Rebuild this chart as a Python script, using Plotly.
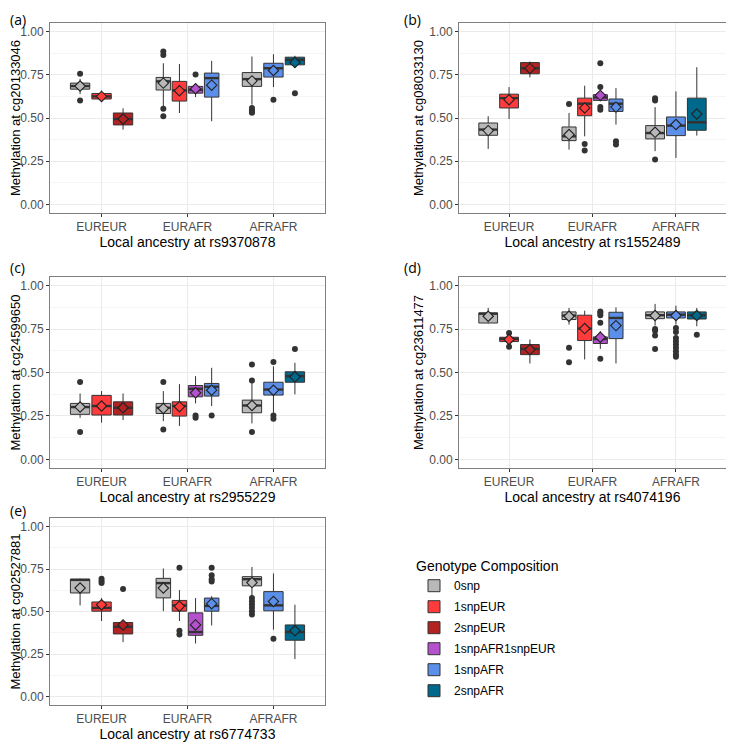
import plotly.graph_objects as go

# genotype groups and their colours
genotypes = ["0snp", "1snpEUR", "2snpEUR", "1snpAFR1snpEUR", "1snpAFR", "2snpAFR"]
geno_colors = ["#B8B8B8", "#FF3B3B", "#B22222", "#B452CD", "#5B8FEA", "#00688B"]
ancestry = ["EUREUR", "EURAFR", "AFRAFR"]

# panel (a): cg20133046 / rs9370878
a_anc = ["EUREUR"] * 3 + ["EURAFR"] * 4 + ["AFRAFR"] * 3
a_geno = ["0snp", "1snpEUR", "2snpEUR", "0snp", "1snpEUR", "1snpAFR1snpEUR", "1snpAFR", "0snp", "1snpAFR", "2snpAFR"]
a_lo = [0.638, 0.594, 0.433, 0.567, 0.529, 0.621, 0.481, 0.577, 0.679, 0.798]
a_q1 = [0.667, 0.610, 0.460, 0.662, 0.598, 0.644, 0.621, 0.683, 0.737, 0.808]
a_med = [0.685, 0.625, 0.494, 0.712, 0.660, 0.663, 0.731, 0.725, 0.788, 0.837]
a_q3 = [0.702, 0.642, 0.529, 0.735, 0.712, 0.683, 0.760, 0.763, 0.817, 0.852]
a_hi = [0.727, 0.658, 0.556, 0.817, 0.813, 0.700, 0.831, 0.856, 0.869, 0.860]
a_mean = [0.685, 0.625, 0.494, 0.702, 0.658, 0.669, 0.690, 0.715, 0.775, 0.821]
a_out = [[0.756, 0.602], [], [], [0.885, 0.865, 0.554, 0.510], [], [0.752], [],
         [0.558, 0.545, 0.535, 0.530], [0.606], [0.644]]

# panel (b): cg08033130 / rs1552489
b_anc = a_anc
b_geno = a_geno
b_lo = [0.321, 0.494, 0.735, 0.317, 0.394, 0.596, 0.462, 0.308, 0.269, 0.398]
b_q1 = [0.400, 0.558, 0.756, 0.369, 0.513, 0.602, 0.538, 0.379, 0.398, 0.429]
b_med = [0.433, 0.615, 0.788, 0.394, 0.583, 0.619, 0.583, 0.413, 0.456, 0.475]
b_q3 = [0.471, 0.638, 0.821, 0.448, 0.615, 0.635, 0.610, 0.456, 0.506, 0.615]
b_hi = [0.510, 0.679, 0.827, 0.529, 0.687, 0.644, 0.673, 0.563, 0.654, 0.794]
b_mean = [0.427, 0.606, 0.787, 0.404, 0.558, 0.631, 0.563, 0.417, 0.462, 0.523]
b_out = [[], [], [], [0.581], [0.350, 0.312], [0.817, 0.679, 0.563, 0.548], [0.365, 0.346],
         [0.615, 0.602, 0.260], [], []]

# panel (c): cg24599650 / rs2955229
c_anc = a_anc
c_geno = a_geno
c_lo = [0.239, 0.211, 0.226, 0.220, 0.192, 0.322, 0.307, 0.207, 0.268, 0.374]
c_q1 = [0.259, 0.255, 0.255, 0.264, 0.249, 0.360, 0.364, 0.268, 0.370, 0.444]
c_med = [0.301, 0.307, 0.297, 0.297, 0.307, 0.406, 0.418, 0.310, 0.402, 0.479]
c_q3 = [0.322, 0.368, 0.331, 0.322, 0.331, 0.425, 0.437, 0.341, 0.444, 0.504]
c_hi = [0.379, 0.393, 0.379, 0.393, 0.433, 0.479, 0.527, 0.441, 0.536, 0.556]
c_mean = [0.301, 0.307, 0.297, 0.293, 0.303, 0.383, 0.398, 0.310, 0.398, 0.475]
c_out = [[0.446, 0.157], [], [], [0.446, 0.172], [], [0.253, 0.240], [0.253],
         [0.546, 0.454, 0.157], [0.561, 0.253, 0.234], [0.636]]

# panel (d): cg23611477 / rs4074196
d_anc = a_anc
d_geno = a_geno
d_lo = [0.782, 0.670, 0.552, 0.776, 0.575, 0.636, 0.552, 0.770, 0.776, 0.766]
d_q1 = [0.785, 0.678, 0.603, 0.805, 0.684, 0.667, 0.695, 0.810, 0.814, 0.808]
d_med = [0.839, 0.693, 0.636, 0.828, 0.753, 0.693, 0.814, 0.830, 0.833, 0.830]
d_q3 = [0.843, 0.703, 0.661, 0.849, 0.830, 0.705, 0.847, 0.849, 0.849, 0.849]
d_hi = [0.872, 0.712, 0.690, 0.872, 0.856, 0.738, 0.875, 0.895, 0.885, 0.872]
d_mean = [0.824, 0.690, 0.632, 0.824, 0.753, 0.703, 0.770, 0.828, 0.828, 0.828]
d_out = [[], [0.728, 0.648], [], [0.642, 0.559], [], [0.852, 0.843, 0.830, 0.787, 0.579], [],
         [0.751, 0.741, 0.713, 0.636],
         [0.757, 0.733, 0.699, 0.680, 0.661, 0.642, 0.623, 0.603, 0.590], [0.718]]

# panel (e): cg02527881 / rs6774733
e_anc = a_anc
e_geno = a_geno
e_lo = [0.536, 0.444, 0.320, 0.502, 0.444, 0.312, 0.418, 0.590, 0.393, 0.220]
e_q1 = [0.609, 0.502, 0.368, 0.580, 0.502, 0.360, 0.502, 0.651, 0.504, 0.331]
e_med = [0.686, 0.521, 0.410, 0.667, 0.536, 0.379, 0.533, 0.690, 0.536, 0.379]
e_q3 = [0.690, 0.556, 0.435, 0.695, 0.565, 0.492, 0.579, 0.705, 0.617, 0.421]
e_hi = [0.693, 0.579, 0.450, 0.753, 0.626, 0.579, 0.590, 0.762, 0.724, 0.540]
e_mean = [0.638, 0.540, 0.421, 0.638, 0.531, 0.421, 0.546, 0.670, 0.559, 0.387]
e_out = [[], [0.693, 0.680, 0.667], [0.632], [], [0.757, 0.387, 0.364], [],
         [0.757, 0.713, 0.690, 0.676], [0.579, 0.560, 0.541, 0.522, 0.502, 0.483], [0.339], []]

panels = [
    ("(a)", "cg20133046", "rs9370878", a_anc, a_geno, a_lo, a_q1, a_med, a_q3, a_hi, a_mean, a_out),
    ("(b)", "cg08033130", "rs1552489", b_anc, b_geno, b_lo, b_q1, b_med, b_q3, b_hi, b_mean, b_out),
    ("(c)", "cg24599650", "rs2955229", c_anc, c_geno, c_lo, c_q1, c_med, c_q3, c_hi, c_mean, c_out),
    ("(d)", "cg23611477", "rs4074196", d_anc, d_geno, d_lo, d_q1, d_med, d_q3, d_hi, d_mean, d_out),
    ("(e)", "cg02527881", "rs6774733", e_anc, e_geno, e_lo, e_q1, e_med, e_q3, e_hi, e_mean, e_out),
]

# the page body has an 8px margin, so the figure is drawn 8px in from the window edge
OFF = 8
W, H = 734 - 2 * OFF, 751 - 2 * OFF
# plot areas in window pixels: left, right, top, bottom
areas = [(50, 325, 23, 213), (459, 726, 23, 213),
         (50, 325, 277, 468), (459, 726, 277, 468),
         (50, 325, 518, 705)]
label_pos = [(8, 8), (402, 8), (8, 256), (402, 256), (8, 499)]


def px_x(p):
    return (p - OFF) / W


def px_y(p):
    return 1 - (p - OFF) / H


font = "Liberation Sans, Arial, sans-serif"
fig = go.Figure()
shown = set()

for k, (lab, cg, rs, anc, geno, lo, q1, med, q3, hi, mean, out) in enumerate(panels):
    xa = "x" if k == 0 else "x%d" % (k + 1)
    ya = "y" if k == 0 else "y%d" % (k + 1)
    # dodge positions inside each ancestry group
    pos, wid = [], []
    for i in range(len(anc)):
        members = [j for j in range(len(anc)) if anc[j] == anc[i]]
        n = len(members)
        slot = 0.75 / n
        c = ancestry.index(anc[i]) + 1
        pos.append(c + (members.index(i) - (n - 1) / 2) * slot)
        wid.append(slot * 0.9)

    med_x, med_y, out_x, out_y = [], [], [], []
    for i in range(len(anc)):
        g = geno[i]
        col = geno_colors[genotypes.index(g)]
        fig.add_trace(go.Box(
            x=[pos[i]], q1=[q1[i]], median=[med[i]], q3=[q3[i]],
            lowerfence=[lo[i]], upperfence=[hi[i]], boxpoints=False,
            width=wid[i], whiskerwidth=0, fillcolor=col,
            line=dict(color="#333333", width=1),
            name=g, legendgroup=g, showlegend=g not in shown,
            legendrank=genotypes.index(g) + 1,
            xaxis=xa, yaxis=ya))
        shown.add(g)
        med_x += [pos[i] - wid[i] / 2, pos[i] + wid[i] / 2, None]
        med_y += [med[i], med[i], None]
        out_x += [pos[i]] * len(out[i])
        out_y += out[i]

    fig.add_trace(go.Scatter(x=med_x, y=med_y, mode="lines", showlegend=False,
                             line=dict(color="#333333", width=2.4), hoverinfo="skip",
                             xaxis=xa, yaxis=ya))
    fig.add_trace(go.Scatter(x=out_x, y=out_y, mode="markers", showlegend=False,
                             marker=dict(color="#333333", size=6),
                             xaxis=xa, yaxis=ya))
    fig.add_trace(go.Scatter(x=pos, y=mean, mode="markers", showlegend=False,
                             marker=dict(symbol="diamond", size=8,
                                         color=[geno_colors[genotypes.index(g)] for g in geno],
                                         line=dict(color="#222222", width=1.1)),
                             xaxis=xa, yaxis=ya))

    l, r, t, b = areas[k]
    key = "" if k == 0 else str(k + 1)
    fig.update_layout(**{
        "xaxis" + key: dict(
            domain=[px_x(l), px_x(r)], anchor=ya, range=[0.4, 3.6],
            tickvals=[1, 2, 3], ticktext=ancestry, ticks="outside", ticklen=3,
            tickcolor="#333333", showgrid=True, gridcolor="#EBEBEB", zeroline=False,
            showline=True, linecolor="#7F7F7F", mirror=True,
            tickfont=dict(size=12, color="#4D4D4D", family=font),
            title=dict(text="Local ancestry at " + rs, standoff=1,
                       font=dict(size=14, color="black", family=font))),
        "yaxis" + key: dict(
            domain=[px_y(b), px_y(t)], anchor=xa, range=[-0.05, 1.05],
            tickvals=[0, 0.25, 0.5, 0.75, 1.0], tickformat=".2f",
            ticks="outside", ticklen=3, tickcolor="#333333",
            showgrid=True, gridcolor="#EBEBEB", zeroline=False,
            minor=dict(dtick=0.125, tick0=0.125, showgrid=True, gridcolor="#F5F5F5", gridwidth=0.6),
            showline=True, linecolor="#7F7F7F", mirror=True,
            tickfont=dict(size=12, color="#4D4D4D", family=font),
            title=dict(text="Methylation at " + cg, standoff=2,
                       font=dict(size=13, color="black", family=font))),
    })
    fig.add_annotation(text=lab, x=px_x(label_pos[k][0]), y=px_y(label_pos[k][1]),
                       xref="paper", yref="paper", xanchor="left", yanchor="top",
                       showarrow=False, font=dict(size=14, color="black", family="Open Sans"))

fig.update_layout(
    width=W, height=H, margin=dict(l=0, r=0, t=0, b=0),
    plot_bgcolor="white", paper_bgcolor="white",
    font=dict(family=font),
    legend=dict(title=dict(text="Genotype Composition", font=dict(size=14, color="black")),
                x=px_x(414), y=px_y(553), xanchor="left", yanchor="top",
                font=dict(size=12, color="black"), tracegroupgap=2,
                bgcolor="rgba(0,0,0,0)"),
)

fig.write_html("out.html")
